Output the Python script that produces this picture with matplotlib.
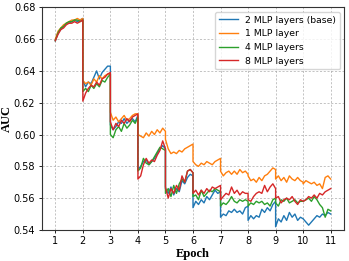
import numpy as np
import matplotlib
matplotlib.use('Agg')
import matplotlib.pyplot as plt

# AUC per epoch, 11 samples per epoch (start -> end of epoch)
EPOCHS = list(range(1, 11))

base_2mlp = [
    [0.659, 0.664, 0.666, 0.668, 0.670, 0.670, 0.671, 0.672, 0.671, 0.672, 0.673],
    [0.634, 0.630, 0.633, 0.632, 0.636, 0.640, 0.635, 0.639, 0.641, 0.643, 0.643],
    [0.606, 0.603, 0.605, 0.608, 0.607, 0.610, 0.607, 0.609, 0.610, 0.608, 0.612],
    [0.578, 0.580, 0.583, 0.584, 0.581, 0.583, 0.585, 0.588, 0.591, 0.593, 0.591],
    [0.566, 0.563, 0.567, 0.562, 0.566, 0.564, 0.571, 0.569, 0.573, 0.575, 0.574],
    [0.554, 0.558, 0.556, 0.559, 0.557, 0.561, 0.559, 0.562, 0.565, 0.563, 0.564],
    [0.548, 0.550, 0.549, 0.552, 0.551, 0.553, 0.551, 0.552, 0.550, 0.554, 0.555],
    [0.546, 0.549, 0.547, 0.549, 0.548, 0.553, 0.551, 0.554, 0.552, 0.556, 0.558],
    [0.542, 0.547, 0.545, 0.549, 0.546, 0.551, 0.548, 0.550, 0.546, 0.548, 0.547],
    [0.547, 0.545, 0.543, 0.545, 0.547, 0.549, 0.548, 0.550, 0.549, 0.551, 0.550],
]
mlp_1 = [
    [0.660, 0.665, 0.667, 0.669, 0.670, 0.671, 0.672, 0.672, 0.673, 0.672, 0.673],
    [0.634, 0.632, 0.633, 0.631, 0.635, 0.633, 0.637, 0.635, 0.637, 0.638, 0.638],
    [0.614, 0.609, 0.611, 0.608, 0.610, 0.612, 0.609, 0.610, 0.612, 0.613, 0.613],
    [0.600, 0.599, 0.598, 0.601, 0.599, 0.602, 0.600, 0.603, 0.601, 0.604, 0.602],
    [0.597, 0.591, 0.588, 0.589, 0.588, 0.590, 0.589, 0.591, 0.592, 0.593, 0.594],
    [0.583, 0.581, 0.580, 0.582, 0.581, 0.583, 0.582, 0.581, 0.583, 0.584, 0.585],
    [0.577, 0.574, 0.576, 0.577, 0.575, 0.577, 0.575, 0.578, 0.576, 0.577, 0.575],
    [0.574, 0.571, 0.572, 0.570, 0.573, 0.571, 0.574, 0.575, 0.577, 0.579, 0.578],
    [0.572, 0.574, 0.571, 0.573, 0.570, 0.574, 0.572, 0.571, 0.573, 0.571, 0.570],
    [0.569, 0.571, 0.570, 0.569, 0.570, 0.568, 0.569, 0.566, 0.573, 0.574, 0.572],
]
mlp_4 = [
    [0.659, 0.664, 0.667, 0.668, 0.670, 0.671, 0.671, 0.672, 0.672, 0.671, 0.672],
    [0.627, 0.629, 0.627, 0.631, 0.629, 0.632, 0.630, 0.634, 0.633, 0.636, 0.638],
    [0.600, 0.598, 0.603, 0.605, 0.602, 0.607, 0.604, 0.606, 0.609, 0.607, 0.611],
    [0.577, 0.579, 0.585, 0.582, 0.581, 0.583, 0.586, 0.589, 0.592, 0.591, 0.590],
    [0.563, 0.566, 0.561, 0.568, 0.563, 0.569, 0.572, 0.570, 0.577, 0.578, 0.576],
    [0.561, 0.562, 0.559, 0.565, 0.561, 0.563, 0.565, 0.564, 0.566, 0.565, 0.564],
    [0.555, 0.557, 0.556, 0.558, 0.561, 0.558, 0.557, 0.559, 0.558, 0.559, 0.558],
    [0.555, 0.557, 0.556, 0.558, 0.557, 0.558, 0.556, 0.557, 0.555, 0.559, 0.560],
    [0.557, 0.555, 0.559, 0.558, 0.560, 0.557, 0.558, 0.559, 0.557, 0.558, 0.558],
    [0.558, 0.559, 0.560, 0.558, 0.561, 0.559, 0.556, 0.554, 0.548, 0.553, 0.552],
]
mlp_8 = [
    [0.659, 0.663, 0.666, 0.667, 0.669, 0.670, 0.670, 0.671, 0.670, 0.671, 0.672],
    [0.621, 0.626, 0.629, 0.631, 0.630, 0.633, 0.631, 0.635, 0.636, 0.638, 0.639],
    [0.608, 0.603, 0.607, 0.605, 0.609, 0.607, 0.610, 0.608, 0.611, 0.612, 0.613],
    [0.572, 0.574, 0.581, 0.585, 0.582, 0.584, 0.583, 0.587, 0.590, 0.596, 0.591],
    [0.567, 0.560, 0.566, 0.563, 0.568, 0.565, 0.574, 0.570, 0.577, 0.578, 0.576],
    [0.563, 0.565, 0.562, 0.565, 0.563, 0.566, 0.564, 0.567, 0.566, 0.567, 0.568],
    [0.559, 0.561, 0.563, 0.562, 0.567, 0.563, 0.565, 0.562, 0.564, 0.563, 0.563],
    [0.559, 0.558, 0.561, 0.563, 0.564, 0.563, 0.568, 0.564, 0.567, 0.569, 0.566],
    [0.560, 0.561, 0.557, 0.559, 0.560, 0.559, 0.561, 0.558, 0.556, 0.559, 0.558],
    [0.558, 0.559, 0.561, 0.560, 0.562, 0.560, 0.563, 0.562, 0.564, 0.565, 0.566],
]

SERIES = [
    ('2 MLP layers (base)', base_2mlp, '#1f77b4'),
    ('1 MLP layer', mlp_1, '#ff7f0e'),
    ('4 MLP layers', mlp_4, '#2ca02c'),
    ('8 MLP layers', mlp_8, '#d62728'),
]


def flatten(segments):
    xs, ys = [], []
    for e, seg in zip(EPOCHS, segments):
        xs.extend(np.linspace(e, e + 1, len(seg)))
        ys.extend(seg)
    return np.array(xs), np.array(ys)


fig = plt.figure(figsize=(3.49, 2.61), dpi=100)
ax = fig.add_axes([0.119, 0.119, 0.868, 0.853])

for label, segs, color in SERIES:
    x, y = flatten(segs)
    ax.plot(x, y, color=color, lw=1.0, label=label)

ax.set_ylim(0.54, 0.68)
ax.set_yticks(np.arange(0.54, 0.681, 0.02))
ax.set_xticks(range(1, 12))
ax.tick_params(labelsize=7, length=2.5, width=0.6, pad=2)
ax.grid(True, ls=(0, (2.5, 2)), lw=0.6, color='#a8a8a8', alpha=0.8)
for sp in ax.spines.values():
    sp.set_linewidth(0.8)
    sp.set_color('#333333')

ax.set_xlabel('Epoch', fontsize=9, fontweight='bold', family='Liberation Serif', labelpad=1)
ax.set_ylabel('AUC', fontsize=9, fontweight='bold', family='Liberation Serif', labelpad=1)
ax.legend(loc='upper right', fontsize=6.7, handlelength=2.0, labelspacing=0.5,
          borderpad=0.4, framealpha=0.8)

fig.savefig('out.png', dpi=100)
